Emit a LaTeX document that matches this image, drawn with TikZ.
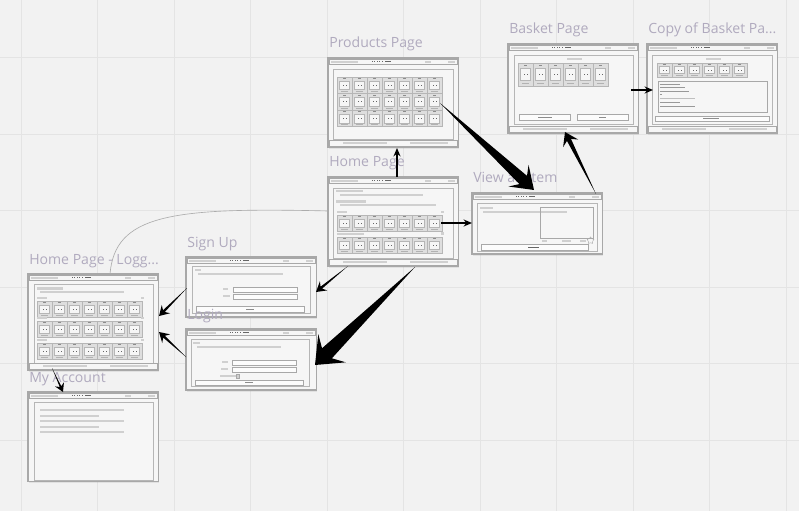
\documentclass[tikz,border=0pt]{standalone}
\usepackage{fontspec}
\setmainfont{Open Sans}
\usetikzlibrary{calc,shadows,arrows.meta,shapes.geometric}

\definecolor{canvascolor}{RGB}{242,242,242}
\definecolor{gridcolor}{RGB}{228,228,228}
\definecolor{labelcolor}{RGB}{176,170,190}
\definecolor{framecolor}{RGB}{168,168,168}
\definecolor{panelcolor}{RGB}{182,182,182}
\definecolor{barcolor}{RGB}{208,208,208}
\definecolor{windowcolor}{RGB}{246,246,246}
\definecolor{tilecolor}{RGB}{222,222,222}

% window parts, in pixels of the board
\newcommand{\topbar}[1]{%
  \draw[barline] (1,1) rectangle (#1-1,6.5);
  \fill[barfill] (2.5,2.6) rectangle (30,4.6);
  \foreach \dt in {0,...,4} \fill[dotfill] ({44+\dt*2.4},3.4) rectangle ++(1,0.7);
  \fill[dotfill] (56.5,3.4) rectangle (63,4.1);
  \fill[barfill] (#1-33,2.6) rectangle (#1-27,4.6);
  \fill[barfill] (#1-10,2.6) rectangle (#1-3,4.6);
}
\newcommand{\footbar}[2]{%
  \draw[barline] (1,#2-7) rectangle (#1-1,#2-1);
  \fill[barfill] (15,#2-5) rectangle (59,#2-3);
  \fill[barfill] (82,#2-5) rectangle (120,#2-3);
}
\newcommand{\tilerow}[4]{% x, y, count, height
  \pgfmathsetmacro{\rowend}{#1+#3*15}
  \draw[tileline, fill=tilecolor] (#1,#2) rectangle (\rowend,#2+#4);
  \foreach \ti in {1,...,#3}{
    \pgfmathsetmacro{\tx}{#1+(\ti-1)*15}
    \draw[tileline] (\tx,#2) rectangle (\tx+15,#2+#4);
    \draw[tileline, fill=windowcolor] (\tx+2.5,#2+0.24*#4) rectangle (\tx+12.5,#2+0.76*#4);
    \fill[black!45] (\tx+6,#2+0.07*#4) rectangle (\tx+9,#2+0.07*#4+0.7);
    \fill[dotfill] (\tx+6,#2+0.47*#4) rectangle (\tx+7,#2+0.47*#4+0.8);
    \fill[dotfill] (\tx+8.5,#2+0.47*#4) rectangle (\tx+9.5,#2+0.47*#4+0.8);
    \fill[black!30] (\tx+4,#2+0.86*#4) rectangle (\tx+11,#2+0.86*#4+0.7);
  }
}
% tapered arrow: start, tip, shaft half width, head half width, head length
\newcommand{\taper}[5]{%
  \fill[wedge] (#1)
    -- ($(#2)!0.7*#5!(#1)!#3!90:(#2)$)
    -- ($(#2)!#5!(#1)!#4!90:(#2)$)
    -- (#2)
    -- ($(#2)!#5!(#1)!#4!-90:(#2)$)
    -- ($(#2)!0.7*#5!(#1)!#3!-90:(#2)$)
    -- cycle;
}

\begin{document}
\begin{tikzpicture}[x=0.025cm, y=-0.025cm,
    wframe/.style={rectangle, draw=framecolor, line width=0.75pt, fill=windowcolor, anchor=north west, inner sep=0pt, outer sep=0pt, drop shadow={opacity=0.15, shadow xshift=0.8pt, shadow yshift=-1.1pt}},
    wlabel/.style={anchor=base west, inner sep=0pt, text=labelcolor, font=\fontsize{10}{12}\selectfont},
    barline/.style={draw=framecolor, line width=0.45pt},
    barfill/.style={fill=barcolor},
    dotfill/.style={fill=black!60},
    panel/.style={draw=panelcolor, line width=0.7pt},
    thinbox/.style={draw=framecolor, line width=0.45pt},
    field/.style={draw=framecolor, line width=0.45pt, fill=white!70!windowcolor},
    tileline/.style={draw=panelcolor, line width=0.3pt},
    gridline/.style={draw=gridcolor, line width=0.7pt},
    arrow/.style={-{Stealth[length=6pt, width=5pt]}, line width=1.1pt},
    wedge/.style={fill=black},
    curve/.style={draw=gray!65, line width=0.45pt}
  ]
  \useasboundingbox (0,0) rectangle (799,511);

  % Board
  \fill[canvascolor] (0,0) rectangle (799,511);
  \foreach \gx in {21,97.5,...,790} \draw[gridline] (\gx,0) -- (\gx,511);
  \foreach \gy in {57.5,134,...,511} \draw[gridline] (0,\gy) -- (799,\gy);

  % Products Page
  \node[wframe, minimum width=3.25cm, minimum height=2.225cm] (prod) at (328,58) {};
  \node[wlabel] (prodlabel) at (329,48) {Products Page};
  \begin{scope}[shift={(prod.north west)}]
    \topbar{130}
    \draw[panel] (5,11) rectangle (125,81);
    \foreach \rw in {0,1,2}{\tilerow{9}{19+\rw*16.6}{7}{16.5}}
    \footbar{130}{89}
  \end{scope}

  % Home Page
  \node[wframe, minimum width=3.25cm, minimum height=2.225cm] (home) at (328,177) {};
  \node[wlabel] (homelabel) at (329,167) {Home Page};
  \begin{scope}[shift={(home.north west)}]
    \topbar{130}
    \draw[panel] (5,11) rectangle (125,81);
    \fill[barfill] (8,13) rectangle (35,15.5);
    \fill[barfill] (12,17) rectangle (95,19);
    \fill[barfill] (8,23) rectangle (38,25.5);
    \fill[barfill] (12,26.5) rectangle (108,28.5);
    \fill[barfill] (9,34) rectangle (19,36);
    \fill[barfill] (113,33.5) rectangle (116,36);
    \tilerow{9}{38}{7}{16}
    \fill[barfill] (9,55.5) rectangle (36,57.5);
    \fill[barfill] (113,55) rectangle (116,57.5);
    \tilerow{9}{60}{7}{16}
    \footbar{130}{89}
  \end{scope}

  % View an Item
  \node[wframe, minimum width=3.25cm, minimum height=1.525cm] (viewitem) at (472,193) {};
  \node[wlabel] (viewlabel) at (473,183) {View an Item};
  \begin{scope}[shift={(viewitem.north west)}]
    \topbar{130}
    \draw[panel] (5,10.5) rectangle (125,58);
    \fill[barfill] (8,14) rectangle (21,16);
    \fill[barfill] (11,18) rectangle (95,20);
    \draw[thinbox] (68,14) rectangle (121,45);
    \fill[barfill] (70,46.5) rectangle (75,48.5);
    \fill[barfill] (90,46.5) rectangle (99,48.5);
    \fill[barfill] (108,46.5) rectangle (114,48.5);
    \node[star, star points=5, draw=framecolor, line width=0.3pt, minimum size=5pt, inner sep=0pt] (viewstar) at (118.5,47.5) {};
    \draw[field] (9,51.5) rectangle (116,57);
    \fill[dotfill] (56,53.8) rectangle (67,54.6);
  \end{scope}

  % Basket Page
  \node[wframe, minimum width=3.25cm, minimum height=2.225cm] (basket) at (508,44) {};
  \node[wlabel] (basketlabel) at (509,34) {Basket Page};
  \begin{scope}[shift={(basket.north west)}]
    \topbar{130}
    \draw[panel] (6,11) rectangle (125,80);
    \fill[barfill] (59,14) rectangle (74,16.5);
    \tilerow{10}{19}{6}{23}
    \draw[field] (11,70) rectangle (62,76);
    \fill[black!45] (30,72.6) rectangle (44,73.3);
    \draw[field] (69,70) rectangle (120,76);
    \fill[black!45] (91,72.6) rectangle (98,73.3);
    \footbar{130}{89}
  \end{scope}

  % Copy of Basket Page
  \node[wframe, minimum width=3.25cm, minimum height=2.225cm] (basketcopy) at (647,44) {};
  \node[wlabel] (copylabel) at (648,34) {Copy of Basket Pa...};
  \begin{scope}[shift={(basketcopy.north west)}]
    \topbar{130}
    \draw[panel] (5,11) rectangle (125,80);
    \fill[barfill] (59,14) rectangle (74,16.5);
    \tilerow{10}{19}{6}{14}
    \draw[thinbox] (11,37) rectangle (120,68);
    \foreach \ly/\lx in {40/33, 43/38, 47/42, 50/15, 58.5/33, 62/48}
      \fill[black!40] (13,\ly) rectangle (\lx,\ly+0.7);
    \draw[black!25, line width=0.3pt] (13,54) -- (48,54);
    \draw[field] (8,72) rectangle (122,77);
    \fill[black!45] (56,74.1) rectangle (72,74.8);
    \footbar{130}{89}
  \end{scope}

  % Sign Up
  \node[wframe, minimum width=3.25cm, minimum height=1.5cm] (signup) at (186,257) {};
  \node[wlabel] (signlabel) at (187,247) {Sign Up};
  \begin{scope}[shift={(signup.north west)}]
    \topbar{130}
    \draw[panel] (6,9) rectangle (124,56);
    \fill[barfill] (9,11.5) rectangle (15,13.5);
    \fill[barfill] (12,16) rectangle (97,18);
    \fill[barfill] (37,31) rectangle (42,33);
    \draw[field] (47,30) rectangle (111,35);
    \fill[barfill] (37,38) rectangle (44,40);
    \draw[field] (47,37) rectangle (111,42);
    \draw[field] (10,49) rectangle (118,55);
    \fill[black!45] (60,51.6) rectangle (68,52.3);
  \end{scope}

  % Login
  \node[wframe, minimum width=3.25cm, minimum height=1.525cm] (login) at (186,329) {};
  \node[wlabel] (loginlabel) at (187,319) {Login};
  \begin{scope}[shift={(login.north west)}]
    \topbar{130}
    \draw[panel] (5,10) rectangle (123,57);
    \fill[barfill] (7,13) rectangle (14,15);
    \fill[barfill] (11,17) rectangle (95,19);
    \fill[barfill] (36,32) rectangle (42,34);
    \draw[field] (46,31) rectangle (110,36);
    \fill[barfill] (35,39) rectangle (42,41);
    \draw[field] (46,38) rectangle (110,43);
    \fill[barfill] (34,46) rectangle (50,48);
    \draw[thinbox, fill=barcolor] (50,45) rectangle (53.5,49);
    \draw[field] (9,51) rectangle (117,56.5);
    \fill[black!45] (59,53.4) rectangle (67,54.1);
  \end{scope}

  % Home Page - Logged in
  \node[wframe, minimum width=3.25cm, minimum height=2.4cm] (homelogged) at (28,274) {};
  \node[wlabel] (loggedlabel) at (29,264) {Home Page - Logg...};
  \begin{scope}[shift={(homelogged.north west)}]
    \topbar{130}
    \draw[panel] (6,10) rectangle (125,89);
    \fill[barfill] (9,13) rectangle (35,15.5);
    \fill[barfill] (12,17) rectangle (96,19);
    \foreach \sy in {0,20,42}{
      \fill[barfill] (9,23+\sy) rectangle (19,25+\sy);
      \fill[barfill] (113,22.5+\sy) rectangle (116,25+\sy);
      \tilerow{9}{27+\sy}{7}{16}
    }
    \footbar{130}{96}
  \end{scope}

  % My Account
  \node[wframe, minimum width=3.25cm, minimum height=2.225cm] (account) at (28,392) {};
  \node[wlabel] (accountlabel) at (29,382) {My Account};
  \begin{scope}[shift={(account.north west)}]
    \topbar{130}
    \draw[panel] (6,10) rectangle (125,88);
    \foreach \ly/\lx in {17/96, 22.5/71, 28/96, 33.5/71, 39/96}
      \fill[barfill] (12,\ly) rectangle (\lx,\ly+2);
  \end{scope}

  % Connector ends
  \coordinate (homeup) at (397,177);
  \coordinate (prodin) at (397,148);
  \coordinate (homeright) at (441,223);
  \coordinate (viewin) at (472,223);
  \coordinate (prodout) at (440,103);
  \coordinate (viewtop) at (534,190);
  \coordinate (viewout) at (596,194);
  \coordinate (basketin) at (565,132);
  \coordinate (basketout) at (631,90);
  \coordinate (copyin) at (653,90);
  \coordinate (homesign) at (348,266);
  \coordinate (signin) at (316,292);
  \coordinate (homelogin) at (415,267);
  \coordinate (loginin) at (315,365);
  \coordinate (signout) at (187,288);
  \coordinate (loggedin) at (159,316);
  \coordinate (loginout) at (186,357);
  \coordinate (loggedinlow) at (159,332);
  \coordinate (loggedout) at (52,368);
  \coordinate (accountin) at (63,392);
  \coordinate (loggedtop) at (110,274);
  \coordinate (homeleft) at (328,211);

  % Connectors
  \draw[curve] (loggedtop) .. controls (115,215) and (170,207) .. (homeleft);
  \draw[arrow] (homeup) -- (prodin);
  \draw[arrow] (homeright) -- (viewin);
  \draw[arrow] (basketout) -- (copyin);
  \taper{prodout}{viewtop}{4pt}{10.5pt}{15pt}
  \taper{viewout}{basketin}{1.6pt}{6pt}{9pt}
  \taper{homesign}{signin}{0.9pt}{4.2pt}{7pt}
  \taper{homelogin}{loginin}{5pt}{14pt}{17pt}
  \taper{signout}{loggedin}{0.9pt}{4.2pt}{7pt}
  \taper{loginout}{loggedinlow}{0.9pt}{4.2pt}{7pt}
  \taper{loggedout}{accountin}{0.6pt}{3.5pt}{6pt}
\end{tikzpicture}
\end{document}
